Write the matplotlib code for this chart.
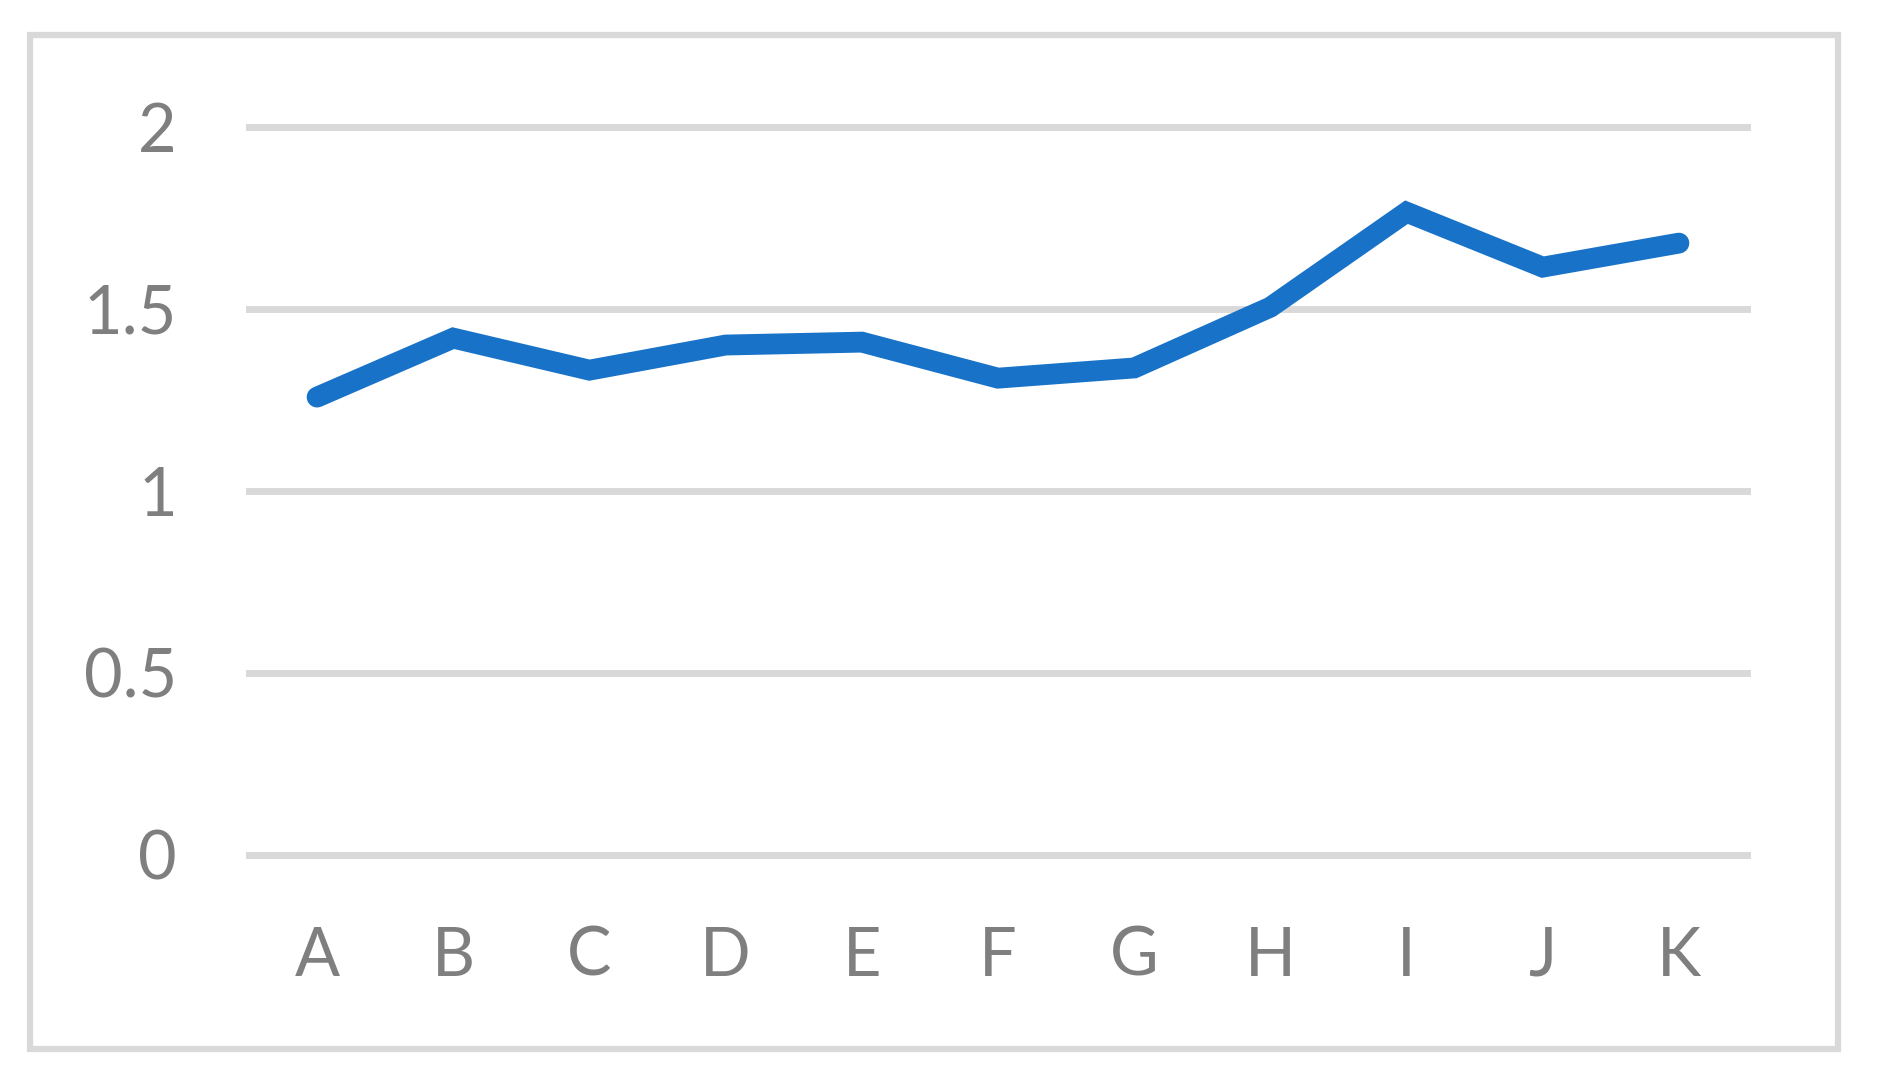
import matplotlib
matplotlib.use('Agg')
import matplotlib.pyplot as plt
from matplotlib.patches import Rectangle

plt.rcParams['font.family'] = ['Lato', 'DejaVu Sans']

categories = ['A', 'B', 'C', 'D', 'E', 'F', 'G', 'H', 'I', 'J', 'K']
values = [1.258, 1.420, 1.332, 1.401, 1.409, 1.310, 1.338, 1.505, 1.766, 1.615, 1.681]
yticks = [0, 0.5, 1, 1.5, 2]
ytick_labels = ['0', '0.5', '1', '1.5', '2']

W, H = 1877, 1081
fig = plt.figure(figsize=(W / 100, H / 100), dpi=100)

# outer chart border
fig.patches.append(Rectangle((30 / W, 1 - 1049 / H), 1808 / W, 1014 / H,
                             transform=fig.transFigure, fill=False,
                             edgecolor='#D9D9D9', linewidth=4.5))

ax = fig.add_axes([249 / W, 1 - 855 / H, 1498 / W, 728 / H])
x = range(len(categories))
ax.plot(x, values, color='#1873C8', linewidth=15,
        solid_capstyle='round', solid_joinstyle='miter', zorder=3)

ax.set_xlim(-0.5, len(categories) - 0.5)
ax.set_ylim(0, 2)
ax.set_xticks(list(x))
ax.set_xticklabels(categories)
ax.set_yticks(yticks)
ax.set_yticklabels(ytick_labels)

ax.grid(axis='y', color='#D9D9D9', linewidth=5)
for gl in ax.get_ygridlines():
    gl.set_clip_on(False)
ax.set_axisbelow(True)

for s in ax.spines.values():
    s.set_visible(False)
ax.tick_params(axis='both', length=0, colors='#7F7F7F', labelsize=48)
ax.tick_params(axis='y', pad=52)
ax.tick_params(axis='x', pad=51)

fig.savefig('out.png', dpi=100)
